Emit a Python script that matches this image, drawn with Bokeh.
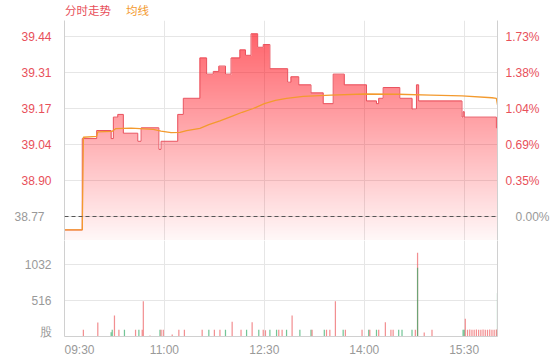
import numpy as np
from bokeh.plotting import figure
from bokeh.models import Range1d, LinearAxis, FixedTicker, Span, Div
from bokeh.layouts import column
from bokeh.embed import file_html
from bokeh.resources import INLINE

# ---------------- data ----------------
prev_close = 38.77
session = ["09:30", "16:00"]

price_times = ["09:30", "09:46", "09:59", "10:12", "10:14", "10:18", "10:23", "10:36", "10:39", "10:55",
               "10:57", "11:12", "11:17", "11:32", "11:38", "11:44", "11:49", "11:55", "12:00", "12:08",
               "12:13", "12:18", "12:24", "12:29", "12:35", "12:51", "12:54", "13:01", "13:12", "13:23",
               "13:32", "13:42", "14:02", "14:11", "14:13", "14:17", "14:32", "14:43", "14:47", "14:49",
               "15:28", "15:29", "15:30", "15:59", "16:00"]
price_values = [38.72, 39.06, 39.09, 39.06, 39.14, 39.15, 39.08, 39.05, 39.10, 39.02,
                39.05, 39.15, 39.21, 39.36, 39.30, 39.31, 39.33, 39.30, 39.36, 39.39,
                39.37, 39.45, 39.40, 39.41, 39.32, 39.27, 39.29, 39.26, 39.23, 39.19,
                39.30, 39.26, 39.20, 39.19, 39.21, 39.25, 39.21, 39.17, 39.26, 39.20,
                39.14, 39.16, 39.14, 39.10, 39.10]

avg_times = ["09:30", "09:46", "09:47", "09:59", "10:00", "10:13", "10:16", "10:30", "10:50", "10:57",
             "11:06", "11:14", "11:20", "11:32", "11:40", "11:50", "12:00", "12:10", "12:20", "12:30",
             "12:40", "12:50", "13:05", "13:30", "14:00", "14:30", "15:00", "15:28", "15:55", "15:59", "16:00"]
avg_values = [38.72, 38.72, 39.065, 39.068, 39.085, 39.087, 39.097, 39.099, 39.094, 39.088,
              39.082, 39.083, 39.09, 39.098, 39.112, 39.126, 39.142, 39.158, 39.172, 39.19,
              39.202, 39.21, 39.217, 39.222, 39.226, 39.225, 39.222, 39.219, 39.212, 39.21, 39.185]

vol_times = ["09:47", "10:00", "10:12", "10:13", "10:15", "10:19", "10:24", "10:34", "10:37", "10:40",
             "10:41", "10:47", "10:56", "10:57", "10:59", "11:07", "11:13", "11:18", "11:34", "11:40",
             "11:45", "11:50", "11:55", "12:01", "12:09", "12:14", "12:19", "12:25", "12:29", "12:31",
             "12:35", "12:41", "12:43", "12:46", "12:50", "12:55", "13:02", "13:12", "13:13", "13:24",
             "13:26", "13:29", "13:34", "13:41", "13:43", "13:58", "14:04", "14:05", "14:11", "14:13",
             "14:19", "14:24", "14:26", "14:31", "14:34", "14:43", "14:46", "14:48", "14:48", "14:54",
             "15:01", "15:29", "15:30", "15:31", "15:33", "15:35", "15:37", "15:39", "15:41", "15:43",
             "15:45", "15:47", "15:49", "15:51", "15:53", "15:55", "15:57", "15:59", "16:00"]
vol_values = [96, 200, 60, 96, 301, 96, 96, 96, 96, 96,
              506, 15, 96, 96, 96, 28, 96, 96, 96, 96,
              96, 96, 96, 210, 96, 96, 205, 96, 96, 90,
              96, 96, 96, 96, 96, 300, 96, 96, 96, 96,
              96, 96, 506, 96, 96, 96, 96, 96, 96, 96,
              205, 96, 96, 96, 96, 96, 96, 1200, 985, 57,
              96, 96, 96, 253, 96, 100, 96, 96, 100, 96,
              96, 100, 96, 96, 100, 96, 96, 100, 620]
vol_dirs = ["u", "u", "d", "d", "u", "u", "d", "u", "d", "u",
            "u", "u", "d", "u", "u", "u", "u", "u", "u", "d",
            "u", "u", "d", "u", "u", "d", "u", "d", "u", "u",
            "d", "d", "u", "u", "d", "u", "d", "d", "u", "d",
            "u", "u", "u", "d", "u", "u", "d", "u", "d", "u",
            "u", "u", "u", "d", "d", "d", "u", "u", "d", "u",
            "u", "d", "d", "u", "u", "u", "u", "u", "u", "u",
            "u", "u", "u", "u", "u", "u", "u", "u", "d"]

price_ticks = [38.77, 38.904, 39.038, 39.172, 39.306, 39.44]
price_labels = ["38.77", "38.90", "39.04", "39.17", "39.31", "39.44"]
pct_labels = ["0.00%", "0.35%", "0.69%", "1.04%", "1.38%", "1.73%"]
vol_ticks = [0, 516, 1032]
vol_labels = ["股", "516", "1032"]
time_labels = ["09:30", "11:00", "12:30", "14:00", "15:30"]
legend_labels = ["分时走势", "均线"]

assert len(price_times) == len(price_values)
assert len(avg_times) == len(avg_values)
assert len(vol_times) == len(vol_values) == len(vol_dirs)

# ---------------- helpers ----------------
def to_min(t):
    h, m = map(int, t.split(":"))
    h0, m0 = map(int, session[0].split(":"))
    return (h * 60 + m) - (h0 * 60 + m0)

t_end = to_min(session[1])
pm = np.array([to_min(t) for t in price_times])
pv = np.array(price_values)
am = [to_min(t) for t in avg_times]
vm = [to_min(t) for t in vol_times]
xt = [to_min(t) for t in time_labels]

RED = "#e9505c"
RED_TXT = "#e8505a"
ORANGE = "#f39a2e"
GRAY_TXT = "#999999"
GRID = "#e6e6e6"
AXIS = "#d0d0d0"
FONT = "Liberation Sans"

FW, FH, VH = 433, 220, 96
BL, BR = 64, 55
step = price_ticks[1] - price_ticks[0]
y_lo = price_ticks[0] - step * 24 / 36
y_hi = price_ticks[-1] + step * 16 / 36
v_hi = vol_ticks[1] * VH / 36
px_per_min = FW / t_end

# ---------------- legend (html text) ----------------
legend = Div(
    text=('<div style="margin-left:%dpx;line-height:20px;font-size:11.5px;'
          'font-family:\'Noto Sans CJK SC\';white-space:nowrap">'
          '<span style="color:%s">%s</span>'
          '<span style="color:%s;margin-left:15px">%s</span></div>')
    % (BL + 1, RED_TXT, legend_labels[0], ORANGE, legend_labels[1]),
    width=BL + FW + BR, height=20, margin=(0, 0, 0, 0))

# ---------------- price figure ----------------
p = figure(frame_width=FW, frame_height=FH, min_border_left=BL, min_border_right=BR,
           min_border_top=0, min_border_bottom=0,
           x_range=Range1d(0, t_end), y_range=Range1d(y_lo, y_hi),
           x_axis_location=None, y_axis_location="left",
           output_backend="svg", toolbar_location=None)
p.outline_line_color = None
p.background_fill_color = "white"
p.border_fill_color = "white"

p.xgrid.ticker = FixedTicker(ticks=xt)
p.ygrid.ticker = FixedTicker(ticks=price_ticks)
p.xgrid.grid_line_color = GRID
p.ygrid.grid_line_color = GRID

def style_axis(ax, color, standoff, line=True):
    ax.axis_line_color = AXIS if line else None
    ax.major_tick_line_color = None
    ax.minor_tick_line_color = None
    ax.major_label_text_color = color
    ax.major_label_text_font = FONT
    ax.major_label_text_font_size = "12px"
    ax.major_label_standoff = standoff

# inner (red) left axis
ly = p.yaxis[0]
ly.ticker = FixedTicker(ticks=price_ticks)
ly.major_label_overrides = {v: (l if v != prev_close else "") for v, l in zip(price_ticks, price_labels)}
style_axis(ly, RED_TXT, 7)
# outer (gray) left axis: only the previous-close label, pulled back next to the frame
ly0 = LinearAxis(ticker=FixedTicker(ticks=[prev_close]),
                 major_label_overrides={prev_close: price_labels[0]})
style_axis(ly0, GRAY_TXT, -32, line=False)
p.add_layout(ly0, "left")

# inner (red) right axis
ry = LinearAxis(ticker=FixedTicker(ticks=price_ticks))
ry.major_label_overrides = {v: (l if v != prev_close else "") for v, l in zip(price_ticks, pct_labels)}
style_axis(ry, RED_TXT, 2)
p.add_layout(ry, "right")
ry0 = LinearAxis(ticker=FixedTicker(ticks=[prev_close]),
                 major_label_overrides={prev_close: pct_labels[0]})
style_axis(ry0, GRAY_TXT, -33, line=False)
p.add_layout(ry0, "right")

# gradient area fill (image masked under the price step line)
H, W = FH, int(t_end)
row_price = y_lo + (np.arange(H) + 0.5) * (y_hi - y_lo) / H
frac = (row_price - y_lo) / (y_hi - y_lo)
alpha = 0.03 + 0.62 * frac
col_price = pv[np.clip(np.searchsorted(pm, np.arange(W), side="right") - 1, 0, len(pv) - 1)]
mask = row_price[:, None] <= col_price[None, :]
img = np.zeros((H, W), dtype=np.uint32)
view = img.view(dtype=np.uint8).reshape((H, W, 4))
view[..., 0] = 255
view[..., 1] = 0
view[..., 2] = 12
view[..., 3] = (alpha[:, None] * 255 * mask).astype(np.uint8)
p.image_rgba(image=[img], x=0, y=y_lo, dw=t_end, dh=y_hi - y_lo)

p.step(x=pm, y=pv, mode="after", line_color=RED, line_width=1)
p.line(x=am, y=avg_values, line_color=ORANGE, line_width=1.3)
p.add_layout(Span(location=prev_close, dimension="width", line_color="#555555",
                  line_dash="4 3", line_width=1))

# ---------------- volume figure ----------------
p2 = figure(frame_width=FW, frame_height=VH, min_border_left=BL, min_border_right=BR,
            min_border_top=0, min_border_bottom=20,
            x_range=p.x_range, y_range=Range1d(0, v_hi),
            output_backend="svg", toolbar_location=None)
p2.outline_line_color = None
p2.background_fill_color = "white"
p2.border_fill_color = "white"
p2.xgrid.ticker = FixedTicker(ticks=xt)
p2.ygrid.ticker = FixedTicker(ticks=vol_ticks)
p2.xgrid.grid_line_color = GRID
p2.ygrid.grid_line_color = GRID

# label positions (ticks are invisible, so they only place the labels)
vol_label_pos = [vol_ticks[0] + 4.5 * vol_ticks[1] / 36] + vol_ticks[1:]
time_label_pos = [xt[0] + 15 / px_per_min] + xt[1:]

vy = p2.yaxis[0]
vy.ticker = FixedTicker(ticks=vol_label_pos)
vy.major_label_overrides = {v: l for v, l in zip(vol_label_pos, vol_labels)}
style_axis(vy, GRAY_TXT, 7)

vx = p2.xaxis[0]
vx.ticker = FixedTicker(ticks=time_label_pos)
vx.major_label_overrides = {v: l for v, l in zip(time_label_pos, time_labels)}
style_axis(vx, GRAY_TXT, 0)

rv = LinearAxis(ticker=FixedTicker(ticks=[]))
style_axis(rv, GRAY_TXT, 2)
p2.add_layout(rv, "right")

up_c, dn_c = "#ec5f63", "#36ad6a"
colors = [up_c if d == "u" else dn_c for d in vol_dirs]
p2.vbar(x=vm, top=vol_values, width=1.1, fill_color=colors, line_color=None, fill_alpha=0.7)

layout = column(legend, p, p2)
open("out.html", "w").write(file_html(layout, INLINE))
